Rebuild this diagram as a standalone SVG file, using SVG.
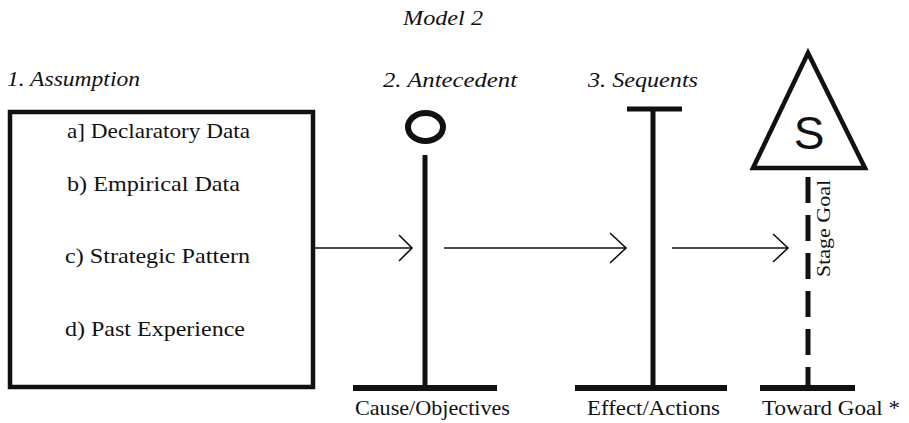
<svg xmlns="http://www.w3.org/2000/svg" width="909" height="423" viewBox="0 0 909 423">
<style>
.thick{stroke:#111;stroke-linecap:butt;fill:none}
.arr{stroke:#111;stroke-width:1.6;fill:none}
</style>
<rect width="909" height="423" fill="#fff"/>
<g fill="#111">
<text transform="translate(443,25)" text-anchor="middle" font-family="Liberation Serif, serif" font-style="italic" font-size="20" textLength="80" lengthAdjust="spacingAndGlyphs">Model 2</text>

<g id="assumption">
<text transform="translate(7,86)" font-family="Liberation Serif, serif" font-style="italic" font-size="22" textLength="133" lengthAdjust="spacingAndGlyphs">1. Assumption</text>
<rect x="10" y="112" width="303" height="275" fill="none" stroke="#111" stroke-width="4.5"/>
<text transform="translate(67,138)" font-family="Liberation Serif, serif" font-size="21" textLength="183" lengthAdjust="spacingAndGlyphs">a] Declaratory Data</text>
<text transform="translate(67,191)" font-family="Liberation Serif, serif" font-size="21" textLength="173" lengthAdjust="spacingAndGlyphs">b) Empirical Data</text>
<text transform="translate(65,263)" font-family="Liberation Serif, serif" font-size="21" textLength="185" lengthAdjust="spacingAndGlyphs">c) Strategic Pattern</text>
<text transform="translate(65,336)" font-family="Liberation Serif, serif" font-size="21" textLength="180" lengthAdjust="spacingAndGlyphs">d) Past Experience</text>
</g>

<g id="antecedent">
<text transform="translate(383,87)" font-family="Liberation Serif, serif" font-style="italic" font-size="22" textLength="134" lengthAdjust="spacingAndGlyphs">2. Antecedent</text>
<ellipse cx="425.5" cy="127" rx="17.5" ry="14" fill="none" stroke="#111" stroke-width="6"/>
<line x1="425" y1="155" x2="425" y2="388" class="thick" stroke-width="5"/>
<line x1="353" y1="388" x2="497" y2="388" class="thick" stroke-width="6"/>
<text transform="translate(355,415)" font-family="Liberation Serif, serif" font-size="22" textLength="155" lengthAdjust="spacingAndGlyphs">Cause/Objectives</text>
</g>

<g id="sequents">
<text transform="translate(588,87)" font-family="Liberation Serif, serif" font-style="italic" font-size="22" textLength="110" lengthAdjust="spacingAndGlyphs">3. Sequents</text>
<line x1="627" y1="109" x2="682" y2="109" class="thick" stroke-width="5"/>
<line x1="653" y1="107" x2="653" y2="388" class="thick" stroke-width="5"/>
<line x1="575" y1="388" x2="727" y2="388" class="thick" stroke-width="6"/>
<text transform="translate(587,415)" font-family="Liberation Serif, serif" font-size="22" textLength="133" lengthAdjust="spacingAndGlyphs">Effect/Actions</text>
</g>

<g id="goal">
<polygon points="808,53 753,168 865,168" fill="none" stroke="#111" stroke-width="4.5" stroke-linejoin="miter"/>
<text x="809" y="149" text-anchor="middle" font-size="46" font-family="Liberation Sans, Arial, sans-serif">S</text>
<line x1="808" y1="177" x2="808" y2="388" class="thick" stroke-width="5" stroke-dasharray="26,12"/>
<line x1="760" y1="388" x2="855" y2="388" class="thick" stroke-width="6"/>
<text transform="translate(830,277) rotate(-90)" font-family="Liberation Serif, serif" font-size="19" textLength="97" lengthAdjust="spacingAndGlyphs">Stage Goal</text>
<text transform="translate(762,415)" font-family="Liberation Serif, serif" font-size="22" textLength="138" lengthAdjust="spacingAndGlyphs">Toward Goal *</text>
</g>
</g>

<g id="connectors">
<path class="arr" d="M315,248 H412 M399,235 L412,248 L399,261"/>
<path class="arr" d="M444,248 H626 M610,233 L626,248 L610,263"/>
<path class="arr" d="M672,248 H788 M773,234 L788,248 L773,262"/>
</g>
</svg>
